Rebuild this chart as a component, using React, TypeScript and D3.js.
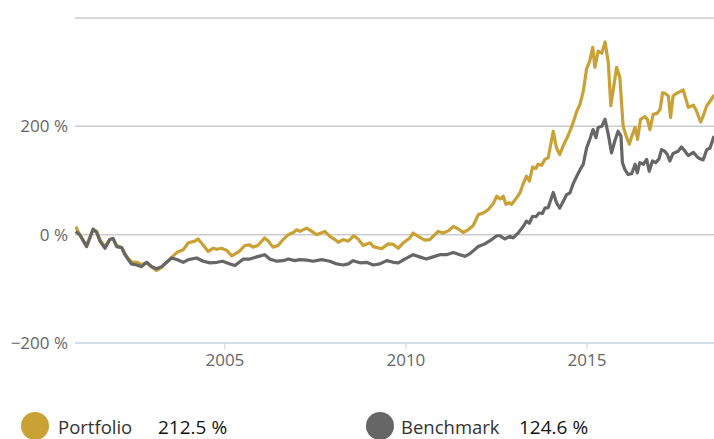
import React from "react";
import * as d3 from "d3";

const portfolioYears = [2000.88,2000.99,2001.18,2001.36,2001.46,2001.55,2001.69,2001.82,2001.91,2002.01,2002.15,2002.24,2002.33,2002.42,2002.56,2002.70,2002.84,2002.98,2003.11,2003.25,2003.39,2003.53,2003.67,2003.85,2003.99,2004.17,2004.26,2004.40,2004.54,2004.68,2004.78,2004.91,2005.05,2005.19,2005.32,2005.41,2005.55,2005.69,2005.77,2005.91,2006.10,2006.20,2006.33,2006.47,2006.61,2006.75,2006.89,2006.98,2007.07,2007.26,2007.40,2007.53,2007.76,2007.90,2008.04,2008.13,2008.27,2008.41,2008.56,2008.68,2008.82,2009.01,2009.10,2009.33,2009.51,2009.65,2009.79,2009.93,2010.11,2010.20,2010.34,2010.52,2010.66,2010.75,2010.89,2011.03,2011.17,2011.31,2011.44,2011.58,2011.72,2011.86,2012.00,2012.14,2012.27,2012.41,2012.51,2012.60,2012.69,2012.76,2012.85,2012.92,2013.06,2013.15,2013.24,2013.33,2013.41,2013.50,2013.59,2013.65,2013.75,2013.84,2013.93,2014.07,2014.16,2014.25,2014.35,2014.44,2014.53,2014.62,2014.72,2014.81,2014.90,2014.99,2015.08,2015.16,2015.22,2015.31,2015.41,2015.50,2015.59,2015.66,2015.73,2015.82,2015.91,2016.00,2016.10,2016.17,2016.24,2016.33,2016.40,2016.48,2016.60,2016.67,2016.74,2016.83,2016.94,2017.02,2017.09,2017.15,2017.25,2017.31,2017.38,2017.48,2017.57,2017.66,2017.80,2017.94,2018.01,2018.14,2018.21,2018.31,2018.44,2018.51];
const portfolioValues = [15,0,-20,10,6,-10,-22,-9,-7,-20,-24,-35,-44,-50,-51,-55,-52,-60,-66,-61,-51,-42,-33,-28,-15,-12,-8,-19,-31,-25,-27,-25,-29,-39,-34,-30,-20,-19,-23,-20,-6,-12,-23,-20,-9,0,4,9,6,12,6,0,6,-3,-9,-14,-9,-12,-2,-8,-20,-15,-22,-26,-17,-18,-25,-15,-6,3,-3,-10,-9,-3,6,3,7,15,11,4,9,17,37,40,46,57,71,66,71,56,59,56,68,77,94,108,99,125,122,130,128,139,142,191,160,148,165,177,191,207,228,241,265,306,321,346,309,339,335,356,318,238,269,309,290,200,179,167,182,198,176,213,218,213,194,222,224,231,262,261,256,216,256,261,264,267,235,239,231,208,219,238,250,258];

const benchmarkYears = [2000.88,2000.99,2001.18,2001.36,2001.46,2001.55,2001.69,2001.82,2001.91,2002.01,2002.15,2002.24,2002.33,2002.42,2002.56,2002.70,2002.84,2002.98,2003.11,2003.25,2003.39,2003.53,2003.67,2003.85,2003.99,2004.22,2004.40,2004.59,2004.78,2004.94,2005.14,2005.28,2005.51,2005.69,2005.88,2006.10,2006.24,2006.43,2006.61,2006.75,2006.93,2007.07,2007.26,2007.44,2007.67,2007.90,2008.09,2008.27,2008.41,2008.54,2008.73,2008.91,2009.10,2009.28,2009.47,2009.65,2009.79,2009.97,2010.11,2010.20,2010.38,2010.56,2010.75,2010.94,2011.12,2011.31,2011.49,2011.63,2011.77,2012.00,2012.18,2012.37,2012.51,2012.60,2012.73,2012.87,2012.96,2013.10,2013.24,2013.33,2013.41,2013.50,2013.59,2013.68,2013.77,2013.84,2013.93,2014.07,2014.16,2014.25,2014.35,2014.44,2014.53,2014.62,2014.72,2014.81,2014.90,2014.99,2015.08,2015.17,2015.25,2015.31,2015.41,2015.50,2015.59,2015.68,2015.77,2015.86,2015.94,2015.98,2016.05,2016.14,2016.24,2016.33,2016.39,2016.46,2016.56,2016.65,2016.72,2016.81,2016.90,2016.99,2017.06,2017.15,2017.22,2017.29,2017.38,2017.52,2017.61,2017.70,2017.80,2017.94,2018.07,2018.21,2018.31,2018.40,2018.51];
const benchmarkValues = [6,0,-22,10,4,-12,-25,-9,-7,-22,-24,-37,-46,-54,-56,-59,-51,-59,-63,-59,-51,-43,-46,-51,-46,-43,-49,-52,-51,-49,-54,-57,-45,-45,-41,-37,-45,-49,-48,-45,-48,-46,-47,-49,-46,-49,-54,-56,-54,-48,-52,-51,-56,-54,-48,-51,-52,-45,-40,-37,-41,-45,-41,-37,-37,-33,-37,-40,-35,-22,-17,-9,-2,-2,-8,-3,-6,3,15,25,21,34,33,40,39,49,50,78,59,49,62,74,77,94,108,120,130,160,176,194,179,198,200,213,185,151,173,191,182,133,120,111,113,130,114,133,130,139,117,136,133,140,157,154,148,136,150,154,162,155,146,152,142,138,157,160,182];

const yTicks = [-200, 0, 200, 400];
const xTicks = [2005, 2010, 2015];
const seriesNames = ["Portfolio", "Benchmark"];
const seriesTotals = ["212.5 %", "124.6 %"];
const seriesColors = ["#c9a134", "#666666"];

const W = 714, H = 439;
const FONT = "'Open Sans', sans-serif";
const legendCx = [35, 380];
const legendNameX = [58, 401];
const legendValueX = [158, 519];

export default function App() {
  const x = d3.scaleLinear().domain([2000.86, 2018.51]).range([75, 714]);
  const y = d3.scaleLinear().domain([-200, 400]).range([343, 18]);
  const line = d3.line<[number, number]>().x(d => x(d[0])).y(d => y(d[1])).curve(d3.curveLinear);
  const pData = portfolioYears.map((t, i) => [t, portfolioValues[i]] as [number, number]);
  const bData = benchmarkYears.map((t, i) => [t, benchmarkValues[i]] as [number, number]);
  const fmt = (v: number) => (v < 0 ? "\u2212" + Math.abs(v) : String(v)) + " %";
  return (
    <svg width={W} height={H} style={{ position: "absolute", left: 0, top: 0, display: "block" }} fontFamily={FONT}>
      <defs>
        <clipPath id="plot"><rect x={75} y={0} width={W - 75} height={343} /></clipPath>
      </defs>
      {yTicks.filter(v => v !== -200).map(v => (
        <line key={v} x1={75} x2={W} y1={y(v)} y2={y(v)} stroke="#cccccc" strokeWidth={1.5} />
      ))}
      {yTicks.filter(v => v !== 400).map(v => (
        <text key={"l" + v} x={68} y={y(v)} dy="0.35em" textAnchor="end" fontSize={17} fill="#666666">{fmt(v)}</text>
      ))}
      <line x1={75} x2={W} y1={y(-200)} y2={y(-200)} stroke="#c5d3e3" strokeWidth={1.5} />
      {xTicks.map(t => (
        <g key={t}>
          <line x1={x(t)} x2={x(t)} y1={y(-200)} y2={y(-200) + 6} stroke="#c5d3e3" strokeWidth={1} />
          <text x={x(t)} y={366} textAnchor="middle" fontSize={17} fill="#666666">{t}</text>
        </g>
      ))}
      <g clipPath="url(#plot)">
        <path d={line(pData) || ""} fill="none" stroke={seriesColors[0]} strokeWidth={3.2} strokeLinejoin="round" />
        <path d={line(bData) || ""} fill="none" stroke={seriesColors[1]} strokeWidth={3.2} strokeLinejoin="round" />
      </g>
      {seriesNames.map((n, i) => (
        <g key={n}>
          <circle cx={legendCx[i]} cy={426} r={14} fill={seriesColors[i]} />
          <text x={legendNameX[i]} y={434} fontSize={18.5} fill="#333333">{n}</text>
          <text x={legendValueX[i]} y={434} fontSize={19} fill="#111111">{seriesTotals[i]}</text>
        </g>
      ))}
    </svg>
  );
}
